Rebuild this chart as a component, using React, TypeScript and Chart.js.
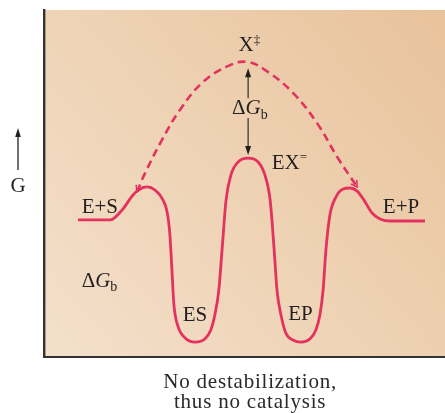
import React, { useEffect, useRef } from "react";
import { Chart, registerables } from "chart.js";

Chart.register(...registerables);

// Reaction coordinate (0–100) and free energy G (0–100) of the real path
const reactionCoord = [8.5, 16.5, 19.5, 22.2, 23.9, 25.7, 27.7, 29.4, 30.7, 31.4, 31.9, 32.4, 33.4, 35.2, 37.7, 40.1, 41.6, 42.6, 43.6, 44.4, 45.4, 46.6, 48.4, 50.9, 53.4, 55.1, 56.4, 57.4, 58.1, 59.1, 60.3, 62.1, 64.1, 66.3, 67.8, 68.8, 69.6, 70.3, 71.3, 72.8, 74.6, 76.3, 78.1, 79.8, 81.8, 83.8, 86.3, 95.0];
const freeEnergy = [39.5, 39.5, 42.4, 46.7, 48.4, 49.0, 48.1, 45.8, 41.8, 35.2, 25.1, 15.0, 8.9, 5.5, 4.3, 5.2, 7.8, 12.1, 19.3, 30.8, 45.2, 52.4, 56.2, 57.3, 56.2, 52.4, 45.2, 30.8, 19.3, 12.1, 6.9, 4.9, 4.3, 5.2, 7.8, 12.1, 19.3, 30.8, 40.9, 46.1, 48.4, 48.7, 47.8, 45.2, 41.5, 39.8, 39.2, 39.2];

// Uncatalyzed path through X‡ (dashed)
const uncatCoord = [23.2, 25.2, 29.4, 33.9, 39.7, 46.4, 50.9, 55.9, 62.1, 68.1, 73.3, 78.1];
const uncatEnergy = [47.6, 53.0, 62.5, 71.2, 79.3, 84.1, 85.0, 82.1, 76.1, 67.4, 57.3, 49.0];

// ΔGb arrow between EX and X‡ (reaction coordinate, G from, G to)
const arrowCoord = 50.9;
const arrowTopG = 83.2;
const arrowBottomG = 58.2;

const captionLines = ["No destabilization,", "thus no catalysis"];

const FONT = '"Liberation Serif", "Times New Roman", serif';
const RED = "#e3325e";
const INK = "#231f20";

type Seg = { t: string; size: number; italic?: boolean; dy?: number };

function drawRich(ctx: CanvasRenderingContext2D, segs: Seg[], x: number, y: number) {
  let cx = x;
  for (const s of segs) {
    ctx.font = `${s.italic ? "italic " : ""}${s.size}px ${FONT}`;
    ctx.fillText(s.t, cx, y + (s.dy || 0));
    cx += ctx.measureText(s.t).width;
  }
}

function arrowHead(ctx: CanvasRenderingContext2D, tx: number, ty: number, dx: number, dy: number, len: number, half: number) {
  const n = Math.hypot(dx, dy) || 1;
  const ux = dx / n, uy = dy / n;
  const bx = tx - ux * len, by = ty - uy * len;
  ctx.beginPath();
  ctx.moveTo(tx, ty);
  ctx.lineTo(bx - uy * half, by + ux * half);
  ctx.lineTo(bx + uy * half, by - ux * half);
  ctx.closePath();
  ctx.fill();
}

const bgPlugin = {
  id: "bg",
  beforeDraw(chart: any) {
    const { ctx, chartArea: a } = chart;
    ctx.save();
    const g = ctx.createLinearGradient(a.left, a.bottom, a.right, a.top);
    g.addColorStop(0, "#f4e0cc");
    g.addColorStop(0.5, "#eed2b3");
    g.addColorStop(1, "#e8c29b");
    ctx.fillStyle = g;
    ctx.fillRect(a.left, a.top, a.right - a.left, a.bottom - a.top);
    ctx.restore();
  },
};

const annotPlugin = {
  id: "annot",
  afterDatasetsDraw(chart: any) {
    const { ctx, chartArea: a } = chart;
    const xs = chart.scales.x, ys = chart.scales.y;
    const X = (v: number) => xs.getPixelForValue(v);
    const Y = (v: number) => ys.getPixelForValue(v);
    ctx.save();
    ctx.fillStyle = INK;
    ctx.strokeStyle = INK;
    ctx.textBaseline = "alphabetic";
    ctx.textAlign = "left";

    // dashed path end arrowheads
    const meta = chart.getDatasetMeta(1);
    const pts = meta.data;
    if (pts.length > 2) {
      ctx.save();
      ctx.strokeStyle = RED;
      ctx.lineWidth = 1.6;
      const ends = [
        [pts[0], pts[1]],
        [pts[pts.length - 1], pts[pts.length - 2]],
      ];
      for (const [tip, prev] of ends) {
        const dx = tip.x - prev.x, dy = tip.y - prev.y;
        const n = Math.hypot(dx, dy);
        const ux = dx / n, uy = dy / n;
        const len = 6, half = 3.5;
        const bx = tip.x - ux * len, by = tip.y - uy * len;
        ctx.beginPath();
        ctx.moveTo(bx - uy * half, by + ux * half);
        ctx.lineTo(tip.x, tip.y);
        ctx.lineTo(bx + uy * half, by - ux * half);
        ctx.stroke();
      }
      ctx.restore();
    }

    // vertical ΔGb arrow
    const ax = X(arrowCoord);
    const yTop = Y(arrowTopG), yBot = Y(arrowBottomG);
    const gapTop = Y(74.6), gapBot = Y(68.9);
    ctx.lineWidth = 1.1;
    ctx.beginPath();
    ctx.moveTo(ax, yTop + 6);
    ctx.lineTo(ax, gapTop);
    ctx.moveTo(ax, gapBot);
    ctx.lineTo(ax, yBot - 6);
    ctx.stroke();
    arrowHead(ctx, ax, yTop, 0, -1, 9, 3);
    arrowHead(ctx, ax, yBot, 0, 1, 9, 3);

    // labels
    drawRich(ctx, [{ t: "Δ", size: 21 }, { t: "G", size: 21, italic: true }, { t: "b", size: 14, dy: 5 }], X(46.9), Y(70.0));
    drawRich(ctx, [{ t: "X", size: 21 }, { t: "‡", size: 13, dy: -7 }], X(48.5), Y(88.3));
    drawRich(ctx, [{ t: "EX", size: 21 }, { t: "=", size: 13, dy: -8 }], X(56.8), Y(54.2));
    drawRich(ctx, [{ t: "E+S", size: 21 }], X(9.4), Y(41.6));
    drawRich(ctx, [{ t: "E+P", size: 21 }], X(84.5), Y(41.6));
    drawRich(ctx, [{ t: "ES", size: 21 }], X(34.6), Y(10.5));
    drawRich(ctx, [{ t: "EP", size: 21 }], X(60.9), Y(10.6));
    drawRich(ctx, [{ t: "Δ", size: 21 }, { t: "G", size: 21, italic: true }, { t: "b", size: 14, dy: 4 }], X(9.4), Y(20.2));

    // G axis label with arrow
    const gx = a.left - 26;
    ctx.lineWidth = 1.3;
    ctx.beginPath();
    ctx.moveTo(gx, Y(53.9));
    ctx.lineTo(gx, Y(66) + 7);
    ctx.stroke();
    arrowHead(ctx, gx, Y(66), 0, -1, 9, 2.8);
    ctx.textAlign = "center";
    ctx.font = `21px ${FONT}`;
    ctx.fillText("G", gx, Y(47.5));

    // caption
    ctx.fillStyle = "#2a2a2a";
    (ctx as any).letterSpacing = "0.8px";
    ctx.font = `21px ${FONT}`;
    captionLines.forEach((line, i) => {
      ctx.fillText(line, X(51.4), a.bottom + 31 + i * 20);
    });
    (ctx as any).letterSpacing = "0px";
    ctx.restore();
  },
};

export default function App() {
  const ref = useRef<HTMLCanvasElement>(null);
  useEffect(() => {
    document.body.style.margin = "0";
    const chart = new Chart(ref.current as HTMLCanvasElement, {
      type: "line",
      data: {
        datasets: [
          {
            data: reactionCoord.map((x, i) => ({ x, y: freeEnergy[i] })),
            borderColor: RED,
            borderWidth: 2.8,
            pointRadius: 0,
            cubicInterpolationMode: "monotone",
            fill: false,
          },
          {
            data: uncatCoord.map((x, i) => ({ x, y: uncatEnergy[i] })),
            borderColor: RED,
            borderWidth: 2.6,
            borderDash: [8, 5],
            pointRadius: 0,
            tension: 0.4,
            fill: false,
          },
        ],
      },
      options: {
        responsive: false,
        animation: false,
        events: [],
        layout: { padding: { left: 44, top: 10, right: 0, bottom: 56 } },
        plugins: { legend: { display: false }, tooltip: { enabled: false }, title: { display: false } },
        scales: {
          x: {
            type: "linear",
            min: 0,
            max: 100,
            grid: { display: false, drawTicks: false },
            ticks: { display: false },
            border: { display: true, color: "#333333", width: 2 },
            afterFit: (s: any) => { s.height = 0; },
          },
          y: {
            type: "linear",
            min: 0,
            max: 100,
            grid: { display: false, drawTicks: false },
            ticks: { display: false },
            border: { display: true, color: "#333333", width: 2.4 },
            afterFit: (s: any) => { s.width = 0; },
          },
        },
      } as any,
      plugins: [bgPlugin, annotPlugin],
    });
    return () => chart.destroy();
  }, []);
  return (
    <div style={{ position: "absolute", left: 0, top: 0, width: 445, height: 413, background: "#fff" }}>
      <canvas ref={ref} width={445} height={413} style={{ display: "block" }} />
    </div>
  );
}
